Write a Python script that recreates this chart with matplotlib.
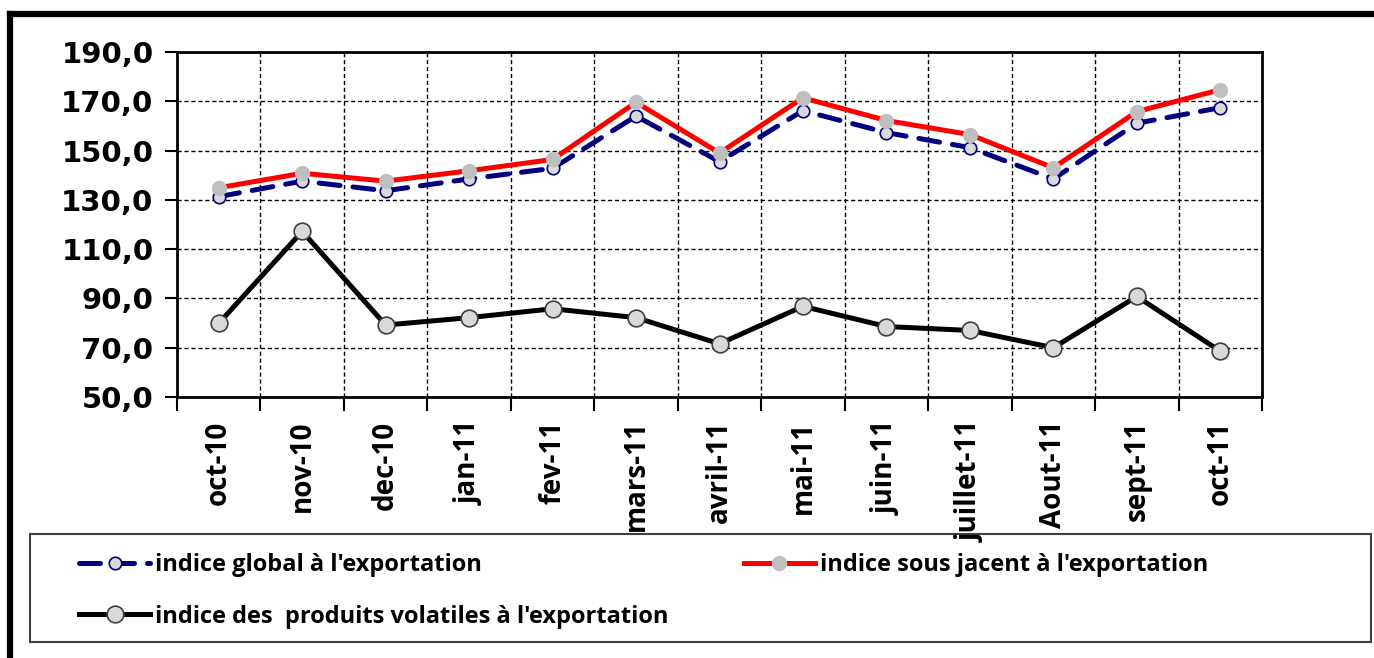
import matplotlib
matplotlib.use("Agg")
import matplotlib.pyplot as plt
from matplotlib.lines import Line2D
from matplotlib.patches import Rectangle
from matplotlib.ticker import FixedLocator, FuncFormatter

months = ["oct-10", "nov-10", "dec-10", "jan-11", "fev-11", "mars-11", "avril-11",
          "mai-11", "juin-11", "juillet-11", "Aout-11", "sept-11", "oct-11"]
global_idx = [131.3, 137.6, 133.7, 138.5, 142.8, 164.0, 145.5, 166.2, 157.3, 151.2, 138.5, 161.1, 167.4]
sous_jacent = [134.9, 140.8, 137.6, 141.8, 146.4, 169.6, 149.0, 171.4, 162.2, 156.5, 143.0, 165.8, 174.7]
volatiles = [79.9, 117.2, 79.2, 82.2, 85.8, 82.2, 71.6, 86.8, 78.6, 77.0, 70.0, 90.8, 68.6]
y_ticks = [50, 70, 90, 110, 130, 150, 170, 190]

labels = ["indice global à l'exportation",
          "indice sous jacent à l'exportation",
          "indice des  produits volatiles à l'exportation"]

NARROW = ["Liberation Sans Narrow", "Open Sans", "DejaVu Sans"]

W, H = 1374, 658
fig = plt.figure(figsize=(W / 100, H / 100), dpi=100)
ax = fig.add_axes([177 / W, 1 - 397 / H, (1262 - 177) / W, (397 - 52) / H])

x = list(range(len(months)))

l1, = ax.plot(x, global_idx, color="#000080", lw=3.6, linestyle=(0, (4.2, 2.6)),
              dash_capstyle="round", marker="o", ms=9, mfc="#d9d9d9", mec="#000080",
              mew=1.2, zorder=3)
l2, = ax.plot(x, sous_jacent, color="#ff0000", lw=3.6, marker="o", ms=10,
              mfc="#bfbfbf", mec="#bfbfbf", zorder=4)
l3, = ax.plot(x, volatiles, color="black", lw=3.6, marker="o", ms=12,
              mfc="#d9d9d9", mec="#404040", mew=1.2, zorder=5)

ax.set_xlim(-0.5, len(months) - 0.5)
ax.set_ylim(50, 190)
ax.yaxis.set_major_locator(FixedLocator(y_ticks))
ax.yaxis.set_major_formatter(FuncFormatter(lambda v, p: f"{v:.1f}".replace(".", ",")))

ax.xaxis.set_major_locator(FixedLocator(x))
ax.set_xticklabels(months, rotation=90, fontsize=20, fontweight="bold", family=NARROW)
ax.xaxis.set_minor_locator(FixedLocator([i - 0.5 for i in range(len(months) + 1)]))
ax.tick_params(axis="x", which="major", length=0, pad=17)
ax.tick_params(axis="x", which="minor", length=10, width=1.5, direction="out")
ax.tick_params(axis="y", which="major", length=9, width=1.5, direction="out", pad=8)
for t in ax.get_yticklabels():
    t.set_fontsize(21)
    t.set_fontweight("bold")
    t.set_family("DejaVu Sans")

ax.grid(True, which="major", axis="y", color="black", linestyle=(0, (3, 2)), lw=1.0)
ax.grid(True, which="minor", axis="x", color="black", linestyle=(0, (3, 2)), lw=1.0)
ax.set_axisbelow(True)
for s in ax.spines.values():
    s.set_linewidth(2.0)

# outer frame
fig.add_artist(Line2D([10 / W, 1], [1 - 14 / H, 1 - 14 / H], transform=fig.transFigure,
                      color="black", lw=4.5))
fig.add_artist(Line2D([10 / W, 10 / W], [0, 1 - 14 / H], transform=fig.transFigure,
                      color="black", lw=4.5))

# legend box
fig.add_artist(Rectangle((30 / W, 1 - 642 / H), (1371 - 30) / W, (642 - 534) / H,
                         transform=fig.transFigure, fill=False, ec="#404040", lw=1.5,
                         zorder=0))
leg = fig.legend([l1, l3, l2], [labels[0], labels[2], labels[1]], ncol=2,
                 loc="upper left", bbox_to_anchor=(70 / W, 1 - 544 / H),
                 frameon=False, prop={"family": NARROW, "weight": "bold", "size": 17},
                 handlelength=3.0, handletextpad=0.2, columnspacing=3.2,
                 labelspacing=1.15, borderaxespad=0)

fig.savefig("out.png", dpi=100)
